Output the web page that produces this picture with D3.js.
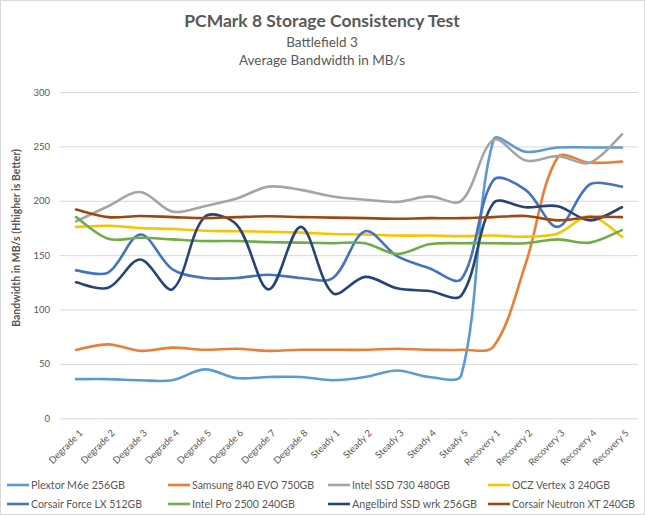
<!DOCTYPE html>
<html><head><meta charset="utf-8">
<script src="https://cdn.jsdelivr.net/npm/d3@7"></script>
<style>body{margin:0;background:#fff}svg{display:block}</style>
</head><body>
<svg id="c" width="645" height="515"></svg>
<script>
const categories = ["Degrade 1","Degrade 2","Degrade 3","Degrade 4","Degrade 5","Degrade 6","Degrade 7","Degrade 8","Steady 1","Steady 2","Steady 3","Steady 4","Steady 5","Recovery 1","Recovery 2","Recovery 3","Recovery 4","Recovery 5"];
const seriesNames = ["Plextor M6e 256GB","Samsung 840 EVO 750GB","Intel SSD 730 480GB","OCZ Vertex 3 240GB","Corsair Force LX 512GB","Intel Pro 2500 240GB","Angelbird SSD wrk 256GB","Corsair Neutron XT 240GB"];
const plextor   = [36,36,35,35,45,37,38,38,35,38,44,38,40,256,245,249,249,249];
const samsung   = [63,68,62,65,63,64,62,63,63,63,64,63,63,66,142,240,235,236];
const intel730  = [181,195,208,190,195,202,213,210,204,201,199,204,200,256,237,241,235,261];
const ocz       = [176,177,175,174,172.5,172,171.5,170.7,169.5,169,168,168,167.5,168,167,170,186,167];
const forceLX   = [136,134,169,137,129,129,132,129,129,172,149,138,128,219,210,176,215,213];
const intelPro  = [185,165,166,164.5,163,163,162,161.5,161,161,151,160,161,161,161,164.5,161.5,173];
const angelbird = [125,120,146,118.6,185,178,118.5,176,115,130,119.5,117,113,198,194,195,182,194];
const neutron   = [192,185,186,185,184,185,185.7,185,184.5,184,183.5,184,184,185,186,182,185,185];
const seriesValues = [plextor,samsung,intel730,ocz,forceLX,intelPro,angelbird,neutron];
const colors = ["#5B9BD5","#ED7D31","#A5A5A5","#FFC000","#4472C4","#70AD47","#264478","#9E480E"];
const yTicks = [0,50,100,150,200,250,300];

// Excel-like smoothing: Catmull-Rom tangents, split by adjacent chord lengths
function ExcelCurve(context){ this._context = context; }
ExcelCurve.prototype = {
  areaStart(){ this._line = 0; }, areaEnd(){ this._line = NaN; },
  lineStart(){ this._px = []; this._py = []; },
  point(x,y){ this._px.push(+x); this._py.push(+y); },
  lineEnd(){
    const X = this._px, Y = this._py, n = X.length, c = this._context;
    if (!n) return;
    c.moveTo(X[0], Y[0]);
    const d = (i,j)=>Math.hypot(X[j]-X[i], Y[j]-Y[i]);
    const ctrl = i => {
      const p = Math.max(0,i-1), q = Math.min(n-1,i+1);
      const tx = X[q]-X[p], ty = Y[q]-Y[p];
      const din = i>0 ? d(i-1,i) : 0, dout = i<n-1 ? d(i,i+1) : 0;
      const s = din + dout || 1;
      const fo = (i===0||i===n-1) ? 1/6 : dout/s/3;
      const fi = (i===0||i===n-1) ? 1/6 : din/s/3;
      return {ox: X[i]+tx*fo, oy: Y[i]+ty*fo, ix: X[i]-tx*fi, iy: Y[i]-ty*fi};
    };
    const C = d3.range(n).map(ctrl);
    for (let i=0;i<n-1;i++){
      c.bezierCurveTo(C[i].ox, C[i].oy, C[i+1].ix, C[i+1].iy, X[i+1], Y[i+1]);
    }
  }
};
const curveExcel = ctx => new ExcelCurve(ctx);

const FONT = "Lato, 'Open Sans', sans-serif";
const svg = d3.select("#c");
svg.append("rect").attr("x",0.5).attr("y",0.5).attr("width",644).attr("height",514)
  .attr("fill","#fff").attr("stroke","#d9d9d9");

const x = d3.scaleBand().domain(categories).range([60,638]).padding(0);
const y = d3.scaleLinear().domain([0,300]).range([418.3,92]);

// titles
svg.append("text").attr("x",322).attr("y",27).attr("text-anchor","middle")
  .attr("font-family",FONT).attr("font-size",17.5).attr("font-weight",700).attr("fill","#595959")
  .text("PCMark 8 Storage Consistency Test");
svg.append("text").attr("x",322).attr("y",47).attr("text-anchor","middle")
  .attr("font-family",FONT).attr("font-size",13.5).attr("fill","#595959").text("Battlefield 3");
svg.append("text").attr("x",322).attr("y",65).attr("text-anchor","middle")
  .attr("font-family",FONT).attr("font-size",13.5).attr("fill","#595959").text("Average Bandwidth in MB/s");

// gridlines
const yAxis = d3.axisLeft(y).tickValues(yTicks).tickSize(-(638-60)).tickPadding(10);
const gy = svg.append("g").attr("transform","translate(60,0)").call(yAxis);
gy.select(".domain").remove();
gy.selectAll(".tick line").attr("stroke","#d9d9d9").attr("stroke-width",1);
gy.selectAll(".tick text").attr("font-family",FONT).attr("font-size",9.5).attr("fill","#595959");

// x axis labels
const xAxis = d3.axisBottom(x).tickSize(0).tickPadding(0);
const gx = svg.append("g").attr("transform",`translate(0,${y(0)})`).call(xAxis);
gx.select(".domain").remove();
gx.selectAll(".tick text")
  .attr("font-family",FONT).attr("font-size",9.5).attr("fill","#595959")
  .attr("text-anchor","end").attr("dy","0.35em")
  .attr("transform","translate(5,13) rotate(-45)")
  .attr("y",0).attr("x",0);

// y axis title
svg.append("text").attr("transform","translate(20,238) rotate(-90)").attr("text-anchor","middle")
  .attr("font-family",FONT).attr("font-size",10.5).attr("font-weight",700).attr("fill","#595959")
  .text("Bandwidth in MB/s (Hhigher is Better)");

// lines
const line = d3.line().x((d,i)=>x(categories[i])+x.bandwidth()/2).y(d=>y(d)).curve(curveExcel);
svg.append("g").selectAll("path").data(seriesValues).join("path")
  .attr("d",line).attr("fill","none").attr("stroke",(d,i)=>colors[i]).attr("stroke-width",2.6)
  .attr("stroke-linecap","round").attr("stroke-linejoin","round");

// legend
const legX = [7,168,328,488];
const legY = [485,504];
const legW = [94,122,98,98,111,103,125,123];
const leg = svg.append("g").selectAll("g").data(seriesNames).join("g")
  .attr("transform",(d,i)=>`translate(${legX[i%4]},${legY[Math.floor(i/4)]})`);
leg.append("line").attr("x1",0).attr("x2",22).attr("y1",0).attr("y2",0)
  .attr("stroke",(d,i)=>colors[i]).attr("stroke-width",2.6);
leg.append("text").attr("x",24).attr("y",0).attr("dy","0.35em")
  .attr("font-family",FONT).attr("font-size",11).attr("fill","#595959")
  .attr("textLength",(d,i)=>legW[i]).attr("lengthAdjust","spacingAndGlyphs").text(d=>d);
</script>
</body></html>
